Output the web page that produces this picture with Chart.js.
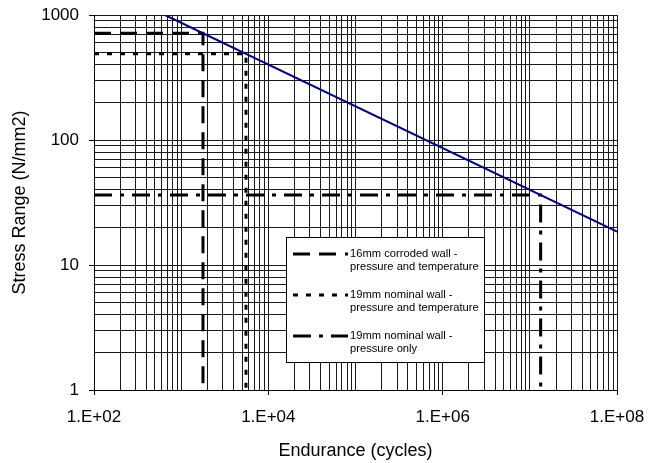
<!DOCTYPE html>
<html>
<head>
<meta charset="utf-8">
<script src="https://cdn.jsdelivr.net/npm/chart.js@4"></script>
<style>
  body { margin: 0; background: #fff; }
  #wrap { width: 658px; height: 463px; }
</style>
</head>
<body>
<div id="wrap"><canvas id="chart" width="658" height="463"></canvas></div>
<script>
// S-N design curve: endurance (cycles) vs stress range (N/mm2)
const curveN = [652, 1e8];
const curveS = [1000, 18.5];

// design cases: across at the stress range, then down at the endurance
const corrodedN = [100, 1780, 1780];
const corrodedS = [716, 716, 1];
const nominalN = [100, 5540, 5540];
const nominalS = [490, 490, 1];
const pressureN = [100, 1.33e7, 1.33e7];
const pressureS = [36.3, 36.3, 1];

const caseNames = [
    ["16mm corroded wall -", "pressure and temperature"],
    ["19mm nominal wall -", "pressure and temperature"],
    ["19mm nominal wall -", "pressure only"]
];

const xTickValues = [1e2, 1e4, 1e6, 1e8];
const xTickLabels = ["1.E+02", "1.E+04", "1.E+06", "1.E+08"];
const yTickValues = [1, 10, 100, 1000];
const yTickLabels = ["1", "10", "100", "1000"];

const fontFamily = "'Liberation Sans', Arial, sans-serif";

function toPoints(xs, ys) {
    return xs.map((x, i) => ({ x: x, y: ys[i] }));
}

// every 1..9 x 10^k between min and max, for the log grid
function logGrid(min, max) {
    const out = [];
    for (let e = Math.floor(Math.log10(min)); e <= Math.ceil(Math.log10(max)); e++) {
        for (let m = 1; m <= 9; m++) {
            const v = m * Math.pow(10, e);
            if (v >= min * 0.999 && v <= max * 1.001) out.push(v);
        }
    }
    return out;
}

function findLabel(v, values, labels) {
    const i = values.findIndex(t => Math.abs(Math.log10(t) - Math.log10(v)) < 1e-6);
    return i >= 0 ? labels[i] : "";
}

// legend box drawn inside the plot, like the original
const boxLegend = {
    id: "boxLegend",
    afterDatasetsDraw(chart) {
        const ctx = chart.ctx;
        const area = chart.chartArea;
        const left = area.left + 192, top = area.top + 222, w = 198, h = 125;
        ctx.save();
        ctx.fillStyle = "#fff";
        ctx.fillRect(left, top, w, h);
        ctx.strokeStyle = "#000";
        ctx.lineWidth = 1;
        ctx.strokeRect(left + 0.5, top + 0.5, w, h);
        ctx.font = "11.2px " + fontFamily;
        ctx.textBaseline = "middle";
        ctx.textAlign = "left";
        chart.data.datasets.slice(1).forEach((ds, i) => {
            const y = top + 17 + i * 41;
            ctx.beginPath();
            ctx.setLineDash(ds.borderDash);
            ctx.lineWidth = ds.borderWidth;
            ctx.strokeStyle = ds.borderColor;
            ctx.moveTo(left + 7, y);
            ctx.lineTo(left + 62, y);
            ctx.stroke();
            ctx.setLineDash([]);
            ctx.fillStyle = "#000";
            caseNames[i].forEach((t, j) => ctx.fillText(t, left + 64, y + j * 12.5));
        });
        ctx.restore();
    }
};

const tickFont = { family: fontFamily, size: 17 };
const titleFont = { family: fontFamily, size: 18, lineHeight: 1.2 };
const gridColor = "#1a1a1a";

new Chart(document.getElementById("chart").getContext("2d"), {
    type: "scatter",
    data: {
        datasets: [
            { data: toPoints(curveN, curveS), borderColor: "#000080", borderWidth: 2, borderDash: [] },
            { data: toPoints(corrodedN, corrodedS), borderColor: "#000", borderWidth: 3, borderDash: [17, 9] },
            { data: toPoints(nominalN, nominalS), borderColor: "#000", borderWidth: 3, borderDash: [5, 8] },
            { data: toPoints(pressureN, pressureS), borderColor: "#000", borderWidth: 3, borderDash: [18, 8, 4, 8] }
        ].map(ds => Object.assign(ds, { showLine: true, pointRadius: 0, fill: false, tension: 0 }))
    },
    options: {
        responsive: false,
        animation: false,
        events: [],
        layout: { padding: { top: 15, right: 41, left: 0, bottom: 0 } },
        plugins: {
            legend: { display: false },
            tooltip: { enabled: false }
        },
        scales: {
            x: {
                type: "logarithmic",
                min: 100,
                max: 1e8,
                afterBuildTicks: s => { s.ticks = logGrid(100, 1e8).map(v => ({ value: v })); },
                afterFit: s => { s.height = 73; },
                ticks: {
                    autoSkip: false,
                    maxRotation: 0,
                    padding: 12,
                    color: "#000",
                    font: tickFont,
                    callback: v => findLabel(v, xTickValues, xTickLabels)
                },
                grid: {
                    color: gridColor,
                    lineWidth: 1,
                    tickLength: 5,
                    tickColor: c => findLabel(c.tick.value, xTickValues, xTickLabels) ? "#000" : "rgba(0,0,0,0)"
                },
                border: { color: "#000" },
                title: { display: true, text: "Endurance (cycles)", color: "#000", font: titleFont, padding: { top: 0, bottom: 1 } }
            },
            y: {
                type: "logarithmic",
                min: 1,
                max: 1000,
                afterBuildTicks: s => { s.ticks = logGrid(1, 1000).map(v => ({ value: v })); },
                afterFit: s => { s.width = 94; s.paddingTop = 0; s.paddingBottom = 0; },
                ticks: {
                    autoSkip: false,
                    padding: 10,
                    color: "#000",
                    font: tickFont,
                    callback: v => findLabel(v, yTickValues, yTickLabels)
                },
                grid: {
                    color: gridColor,
                    lineWidth: 1,
                    tickLength: 5,
                    tickColor: c => findLabel(c.tick.value, yTickValues, yTickLabels) ? "#000" : "rgba(0,0,0,0)"
                },
                border: { color: "#000" },
                title: { display: true, text: "Stress Range (N/mm2)", color: "#000", font: titleFont, padding: { top: 9, bottom: 0 } }
            }
        }
    },
    plugins: [boxLegend]
});
</script>
</body>
</html>
